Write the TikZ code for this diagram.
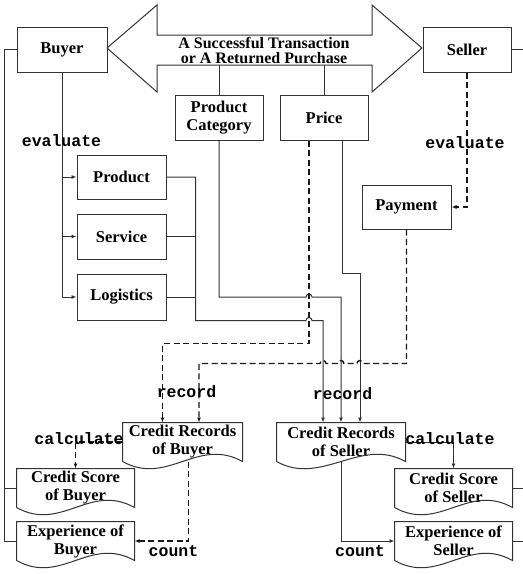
\documentclass[tikz,border=0pt]{standalone}
\usepackage{fontspec}
\setmainfont{Liberation Serif}
\setmonofont{Liberation Mono}
\usetikzlibrary{arrows.meta}
\tikzset{box/.style = {draw, rectangle, inner sep=0pt, align=center, text=black, minimum width=89pt, minimum height=45pt, font=\bfseries\fontsize{16.5}{18}\selectfont}}
\tikzset{doc/.style = {rectangle, inner sep=0pt, align=center, text=black, minimum height=38pt, font=\bfseries\fontsize{16.5}{18}\selectfont}}
\tikzset{verb/.style = {anchor=base, inner sep=0pt, text=black, font=\ttfamily\bfseries\fontsize{16.5}{18}\selectfont}}
\tikzset{link/.style = {black!90, line width=1.4pt, dash pattern=on 6pt off 3.5pt}}

\begin{document}
\begin{tikzpicture}[x=1pt, y=1pt, >={Latex[length=5pt,width=4pt]}, line width=1pt, black!80]
  \useasboundingbox (0,0) rectangle (523,-574);

  % transaction arrow
  \draw (107,-48) -- (157,-5) -- (157,-35) -- (372,-35) -- (372,-5) -- (422,-48)
    -- (372,-92) -- (372,-65) -- (157,-65) -- (157,-92) -- cycle;
  \coordinate (shaft) at (264,-65);
  \node [inner sep=0pt, align=center, text=black, font=\bfseries\fontsize{16}{15}\selectfont] (deal) at (264,-50) {A Successful Transaction\\or A Returned Purchase};

  \node [box, minimum width=90pt] (buyer) at (62,-49.5) {Buyer};
  \node [box, minimum width=88pt] (seller) at (467,-49.5) {Seller};
  \node [box, minimum width=88pt] (prodcat) at (219,-117.5) {Product\\Category};
  \node [box, minimum width=88pt] (price) at (324,-117.5) {Price};
  \node [box, minimum height=44pt] (product) at (121.5,-177) {Product};
  \node [box] (service) at (121.5,-236.5) {Service};
  \node [box, minimum height=46pt] (logistics) at (121.5,-297) {Logistics};
  \node [box, minimum height=44pt] (payment) at (406.5,-207) {Payment};

  \node [doc, minimum width=119pt] (recbuyer) at (182.5,-442) {Credit Records\\of Buyer};
  \node [doc, minimum width=128pt] (recseller) at (341,-442) {Credit Records\\of Seller};
  \node [doc, minimum width=117pt] (scorebuyer) at (75.5,-488) {Credit Score\\of Buyer};
  \node [doc, minimum width=117pt] (expbuyer) at (75.5,-541) {Experience of\\Buyer};
  \node [doc, minimum width=117pt] (scoreseller) at (453.5,-488) {Credit Score\\of Seller};
  \node [doc, minimum width=117pt] (expseller) at (453.5,-541) {Experience of\\Seller};

  \foreach \n in {recbuyer, recseller, scorebuyer, expbuyer, scoreseller, expseller}
    \draw (\n.south west) -- (\n.north west) -- (\n.north east) -- (\n.south east)
      .. controls +(-45,25) and +(45,-25) .. (\n.south west);

  % outer rails
  \draw (buyer.west) -- ++(-12,0) coordinate (rail) |- (expbuyer.west);
  \draw (rail |- scorebuyer.west) -- (scorebuyer.west);
  \draw (seller.east) -- ++(12,0);
  \draw (scoreseller.east) -- ++(11,0);
  \draw (expseller.east) -- ++(11,0);

  % buyer evaluates
  \draw[->] (buyer.south) |- (product.west);
  \draw[->] (buyer.south) |- (service.west);
  \draw[->] (buyer.south) |- (logistics.west);

  \draw (prodcat.north) -- (prodcat.north |- shaft);
  \draw (price.north) -- (price.north |- shaft);

  \coordinate (pd) at ([xshift=-15pt]price.south);
  \coordinate (ps) at ([xshift=18pt]price.south);
  \coordinate (bus) at ([xshift=29pt]product.east);
  \coordinate (ins1) at ([xshift=-18pt]recseller.north);
  \coordinate (ins2) at (recseller.north);
  \coordinate (ins3) at ([xshift=19pt]recseller.north);
  \coordinate (inb1) at ([xshift=-20pt]recbuyer.north);
  \coordinate (inb2) at ([xshift=16.5pt]recbuyer.north);

  % to the records of the seller
  \draw (service.east) -- (service.east -| bus);
  \draw (logistics.east) -- (logistics.east -| bus);
  \draw[->] (product.east) -| (bus |- logistics.south) -- ([xshift=-3pt]pd |- logistics.south)
    arc[start angle=180, end angle=0, radius=3] -| (ins1);
  \draw[->] (prodcat.south) |- ([xshift=-3pt]pd |- logistics.east)
    arc[start angle=180, end angle=0, radius=3] -| (ins2);
  \draw[->] (ps) -- (ps |- logistics.north) -| (ins3);

  % to the records of the buyer
  \draw[link, ->] (pd) |- ([yshift=79pt]inb1) -- (inb1);
  \draw[link, ->] (seller.south) |- (payment.east);
  \draw[link, ->] (payment.south) |- ([xshift=3pt,yshift=59pt]ins3)
    arc[start angle=0, end angle=180, radius=3] -- ([xshift=3pt,yshift=59pt]ins2)
    arc[start angle=0, end angle=180, radius=3] -- ([xshift=3pt,yshift=59pt]ins1)
    arc[start angle=0, end angle=180, radius=3] -| (inb2);

  % outputs
  \draw[link, ->] (recbuyer.west) -| (scorebuyer.north);
  \draw[link, ->] ([xshift=6pt]recbuyer.south) |- (expbuyer.east);
  \draw[->] (recseller.east) -| (scoreseller.north);
  \draw[->] (recseller.south) |- (expseller.west);

  \node [verb] (evalb) at (61.5,-146) {evaluate};
  \node [verb] (evals) at (465,-148) {evaluate};
  \node [verb] (recb) at (186.5,-397) {record};
  \node [verb] (recs) at (342.5,-399) {record};
  \node [verb] (calcb) at (79,-444) {calculate};
  \node [verb] (calcs) at (450,-444) {calculate};
  \node [verb] (countb) at (173.5,-556) {count};
  \node [verb] (counts) at (360,-556) {count};
\end{tikzpicture}
\end{document}
